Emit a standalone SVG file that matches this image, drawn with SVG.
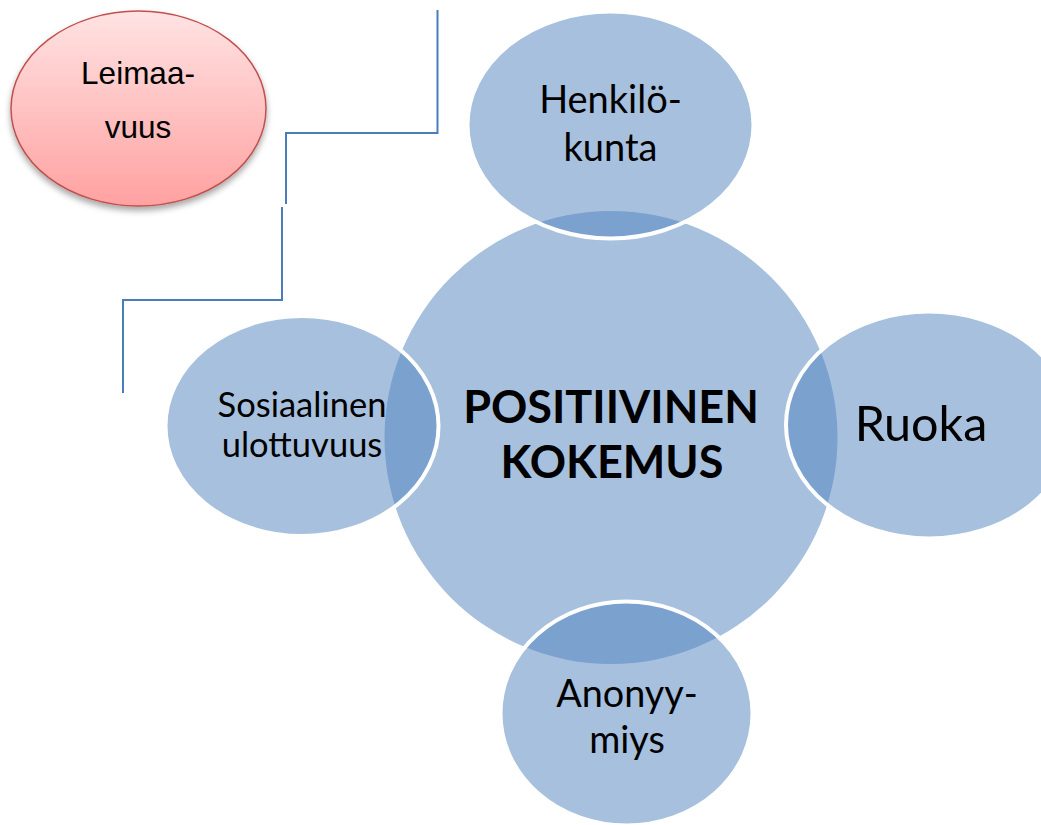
<svg xmlns="http://www.w3.org/2000/svg" width="1041" height="825" viewBox="0 0 1041 825">
  <defs>
    <linearGradient id="pinkGrad" x1="0" y1="0" x2="0" y2="1">
      <stop offset="0" stop-color="#FFE3E3"/>
      <stop offset="1" stop-color="#FFA1A1"/>
    </linearGradient>
    <filter id="shadow" x="-20%" y="-20%" width="140%" height="150%">
      <feDropShadow dx="0" dy="4" stdDeviation="3" flood-color="#000" flood-opacity="0.35"/>
    </filter>
    <style>
      .sat { fill: #4F81BD; fill-opacity: 0.5; stroke: #FFFFFF; stroke-width: 4; }
      .core { fill: #A7C0DE; }
      .lbl { font-family: Lato, "Open Sans", sans-serif; fill: #000; text-anchor: middle; }
      .bold { font-weight: bold; }
      .conn { fill: none; stroke: #4A7EBB; stroke-width: 2; }
      .arial { font-family: "Liberation Sans", Arial, sans-serif; fill: #000; text-anchor: middle; }
    </style>
  </defs>
  <rect width="1041" height="825" fill="#FFFFFF"/>

  <g id="connectors">
    <path class="conn" d="M437.5,10 V133 H286 V204"/>
    <path class="conn" d="M282,207 V300 H123 V393"/>
  </g>

  <g id="leimaavuus">
    <ellipse cx="138.5" cy="108.5" rx="127.5" ry="97.5" fill="url(#pinkGrad)" stroke="#C0504D" stroke-width="1.5" filter="url(#shadow)"/>
    <text class="arial" x="138" y="84" font-size="31.5">Leimaa-</text>
    <text class="arial" x="138" y="138" font-size="31.5">vuus</text>
  </g>

  <g id="positiivinen">
    <circle class="core" cx="611" cy="437.5" r="226.5"/>
    <text class="lbl bold" x="611" y="423" font-size="45">POSITIIVINEN</text>
    <text class="lbl bold" x="612" y="478" font-size="45">KOKEMUS</text>
  </g>

  <g id="henkilokunta">
    <ellipse class="sat" cx="610.5" cy="125" rx="143" ry="113.5"/>
    <text class="lbl" x="610.5" y="113" font-size="38">Henkilö-</text>
    <text class="lbl" x="610.5" y="161" font-size="38">kunta</text>
  </g>

  <g id="ruoka">
    <ellipse class="sat" cx="929" cy="425" rx="143" ry="113.5"/>
    <text class="lbl" x="921" y="441" font-size="48.5">Ruoka</text>
  </g>

  <g id="sosiaalinen">
    <ellipse class="sat" cx="302" cy="426" rx="136.5" ry="110"/>
    <text class="lbl" x="302" y="417" font-size="34.5">Sosiaalinen</text>
    <text class="lbl" x="302" y="457" font-size="34.5">ulottuvuus</text>
  </g>

  <g id="anonyymiys">
    <ellipse class="sat" cx="626.5" cy="713.5" rx="126" ry="112"/>
    <text class="lbl" x="627" y="707" font-size="37.8">Anonyy-</text>
    <text class="lbl" x="627" y="753" font-size="37.8">miys</text>
  </g>
</svg>
